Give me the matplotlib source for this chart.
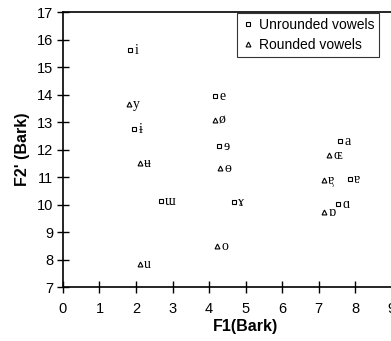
import matplotlib
matplotlib.use("Agg")
import matplotlib.pyplot as plt

plt.rcParams["font.family"] = ["Liberation Sans", "DejaVu Sans"]

# unrounded vowels (squares)
unr_labels = ["i", "ɨ", "ɯ", "e", "ɘ", "ɤ", "a", "ɐ", "ɑ"]
unr_f1 = [1.84, 1.95, 2.68, 4.16, 4.27, 4.68, 7.59, 7.86, 7.53]
unr_f2 = [15.62, 12.75, 10.13, 13.95, 12.13, 10.09, 12.31, 10.93, 10.02]

# rounded vowels (triangles)
rnd_labels = ["y", "ʉ", "u", "ø", "ɵ", "o", "ɶ", "ɐ\u0339", "ɒ"]
rnd_f1 = [1.81, 2.10, 2.10, 4.16, 4.30, 4.22, 7.29, 7.15, 7.15]
rnd_f2 = [13.65, 11.50, 7.84, 13.07, 11.33, 8.49, 11.80, 10.89, 9.73]

fig = plt.figure(figsize=(3.91, 3.41), dpi=100)
ax = fig.add_axes([0.161, 0.158, 0.934, 0.806])

ax.plot(unr_f1, unr_f2, "s", ms=3.5, mfc="white", mec="black", mew=0.8,
        ls="none", label="Unrounded vowels")
ax.plot(rnd_f1, rnd_f2, "^", ms=3.5, mfc="white", mec="black", mew=0.8,
        ls="none", label="Rounded vowels")

ipa_font = ["Liberation Serif", "DejaVu Serif"]
for x, y, t in zip(unr_f1, unr_f2, unr_labels):
    ax.annotate(t, (x, y), xytext=(3, 0), textcoords="offset points",
                va="center", ha="left", fontsize=10, family=ipa_font)
for x, y, t in zip(rnd_f1, rnd_f2, rnd_labels):
    ax.annotate(t, (x, y), xytext=(3, 0), textcoords="offset points",
                va="center", ha="left", fontsize=10, family=ipa_font)

ax.set_xlim(0, 10)
ax.set_ylim(7, 17)
ax.set_xticks(range(0, 11))
ax.set_yticks(range(7, 18))
ax.tick_params(direction="inout", length=8, width=1, labelsize=10.5)
ax.tick_params(axis="x", pad=7)
ax.tick_params(axis="y", pad=3)
for s in ["left", "bottom", "top"]:
    ax.spines[s].set_linewidth(1.2)
ax.spines["right"].set_visible(False)

ax.set_xlabel("F1(Bark)", fontsize=11.5, fontweight="bold", labelpad=2)
ax.set_ylabel("F2' (Bark)", fontsize=11.5, fontweight="bold", labelpad=5)

leg = ax.legend(loc="upper left", bbox_to_anchor=(0.477, 0.997), fontsize=10,
                frameon=True, fancybox=False, edgecolor="black",
                handlelength=0.8, handletextpad=0.4, borderpad=0.35,
                labelspacing=0.45, borderaxespad=0)
leg.get_frame().set_linewidth(0.8)

fig.savefig("out.png", dpi=100)
